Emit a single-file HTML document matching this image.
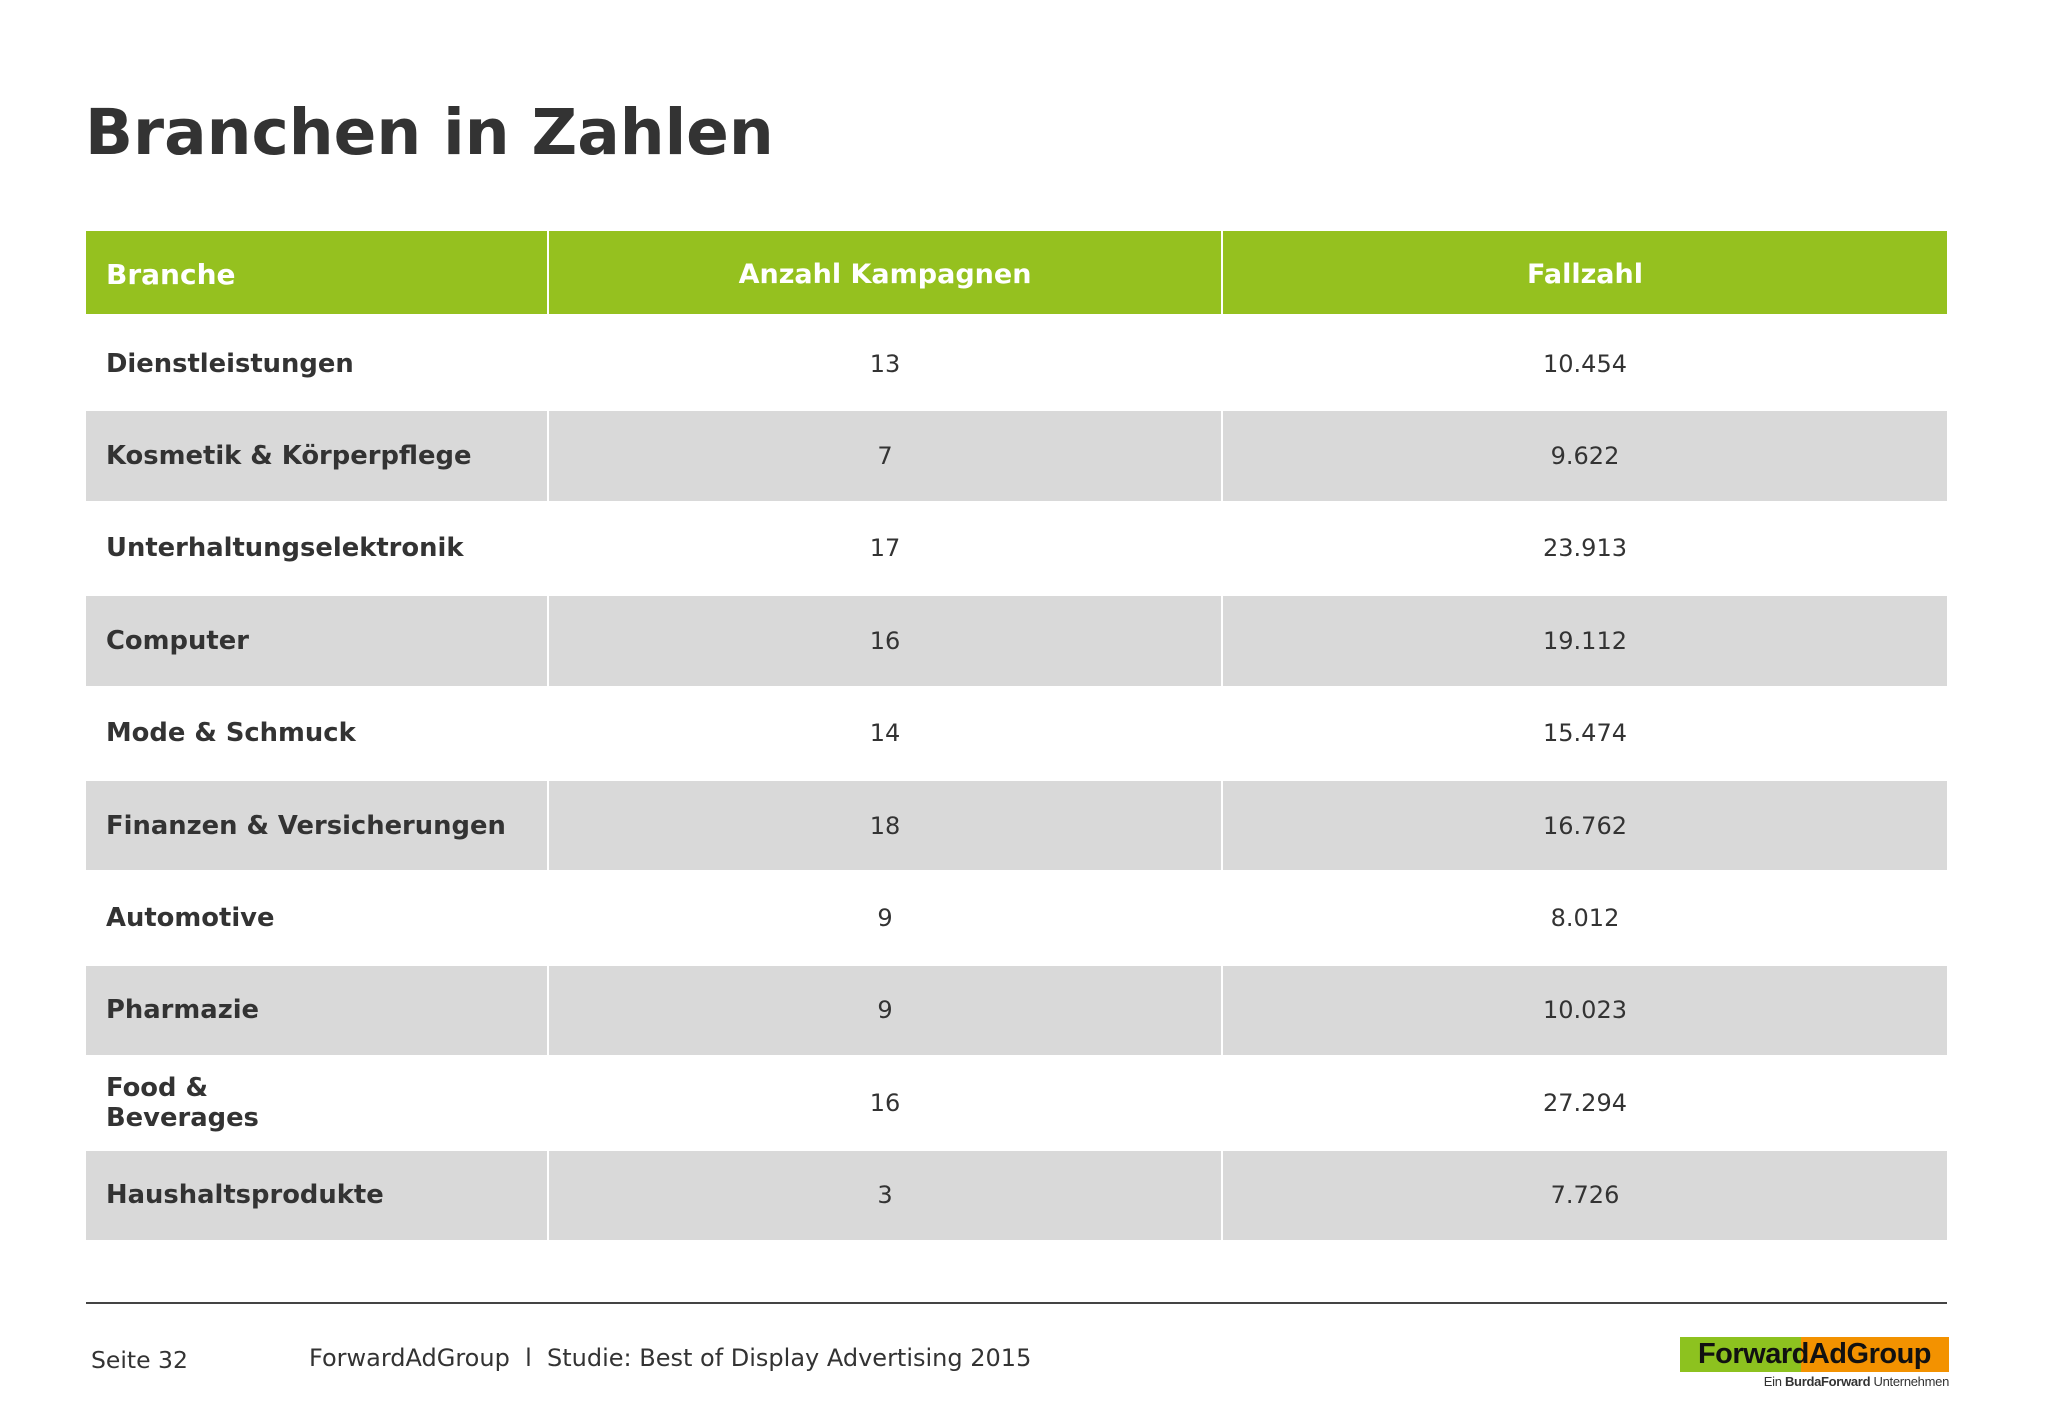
<!DOCTYPE html>
<html><head><meta charset="utf-8"><style>
body{margin:0;width:2048px;height:1418px;background:#fff;position:relative;font-family:"DejaVu Sans","Liberation Sans",sans-serif;color:#333;overflow:hidden}
.a{position:absolute}
#title{left:85px;top:96px;font-size:63px;font-weight:bold;color:#333;white-space:nowrap}
.cell{position:absolute;display:flex;align-items:center;font-size:24px;box-sizing:border-box}
.hd{background:#95c11f;color:#fff;font-weight:bold;font-size:27px;padding-top:4px}
.g{background:#d9d9d9}
.l{padding-left:20px;font-weight:bold;line-height:30px;font-size:25.8px}
.hd.l{font-size:28px}
.c{justify-content:center}
</style></head><body>
<div id="title" class="a">Branchen in Zahlen</div>
<div id="tbl"></div>
<div class="a" style="left:86px;top:1302px;width:1861px;height:2px;background:#444"></div>
<div class="a" style="left:91px;top:1346px;font-size:23.5px">Seite 32</div>
<div class="a" style="left:309px;top:1344px;font-size:24px;white-space:nowrap">ForwardAdGroup&nbsp; l&nbsp; Studie: Best of Display Advertising 2015</div>
<div class="a" style="left:1680px;top:1337px;width:269px;height:35px;background:linear-gradient(90deg,#8dc21f 0,#8dc21f 45%,#f39200 45%);">
<div style="font-family:'Liberation Sans',sans-serif;font-weight:bold;font-size:29px;color:#111;text-align:center;line-height:35px;letter-spacing:-0.5px">ForwardAdGroup</div></div>
<div class="a" style="left:1680px;width:269px;top:1374px;text-align:right;font-family:'Liberation Sans',sans-serif;font-size:13px;color:#333;letter-spacing:-0.3px">Ein <b>BurdaForward</b> Unternehmen</div>
<script>
const branchen=["Dienstleistungen","Kosmetik & Körperpflege","Unterhaltungselektronik","Computer","Mode & Schmuck","Finanzen & Versicherungen","Automotive","Pharmazie","Food &<br>Beverages","Haushaltsprodukte"];
const kampagnen=["13","7","17","16","14","18","9","9","16","3"];
const fallzahl=["10.454","9.622","23.913","19.112","15.474","16.762","8.012","10.023","27.294","7.726"];
const headers=["Branche","Anzahl Kampagnen","Fallzahl"];
const t=document.getElementById('tbl');
const cols=[[86,461],[549,672],[1223,724]];
function mk(x,y,w,h,cls,html,name){const d=document.createElement('div');d.className='cell '+cls;d.style.left=x+'px';d.style.top=y+'px';d.style.width=w+'px';d.style.height=h+'px';d.innerHTML=html;


t.appendChild(d);}
headers.forEach((h,i)=>mk(cols[i][0],231,cols[i][1],83,'hd '+(i?'c':'l'),h,'header-'+i));
const top0=319,rh=92.4;
branchen.forEach((b,r)=>{const y=top0+r*rh;const g=r%2?'g ':'';
mk(cols[0][0],y,cols[0][1],rh-3,g+'l',b,'row-'+r+'-branche');
mk(cols[1][0],y,cols[1][1],rh-3,g+'c',kampagnen[r],'row-'+r+'-kampagnen');
mk(cols[2][0],y,cols[2][1],rh-3,g+'c',fallzahl[r],'row-'+r+'-fallzahl');});
</script>
</body></html>
